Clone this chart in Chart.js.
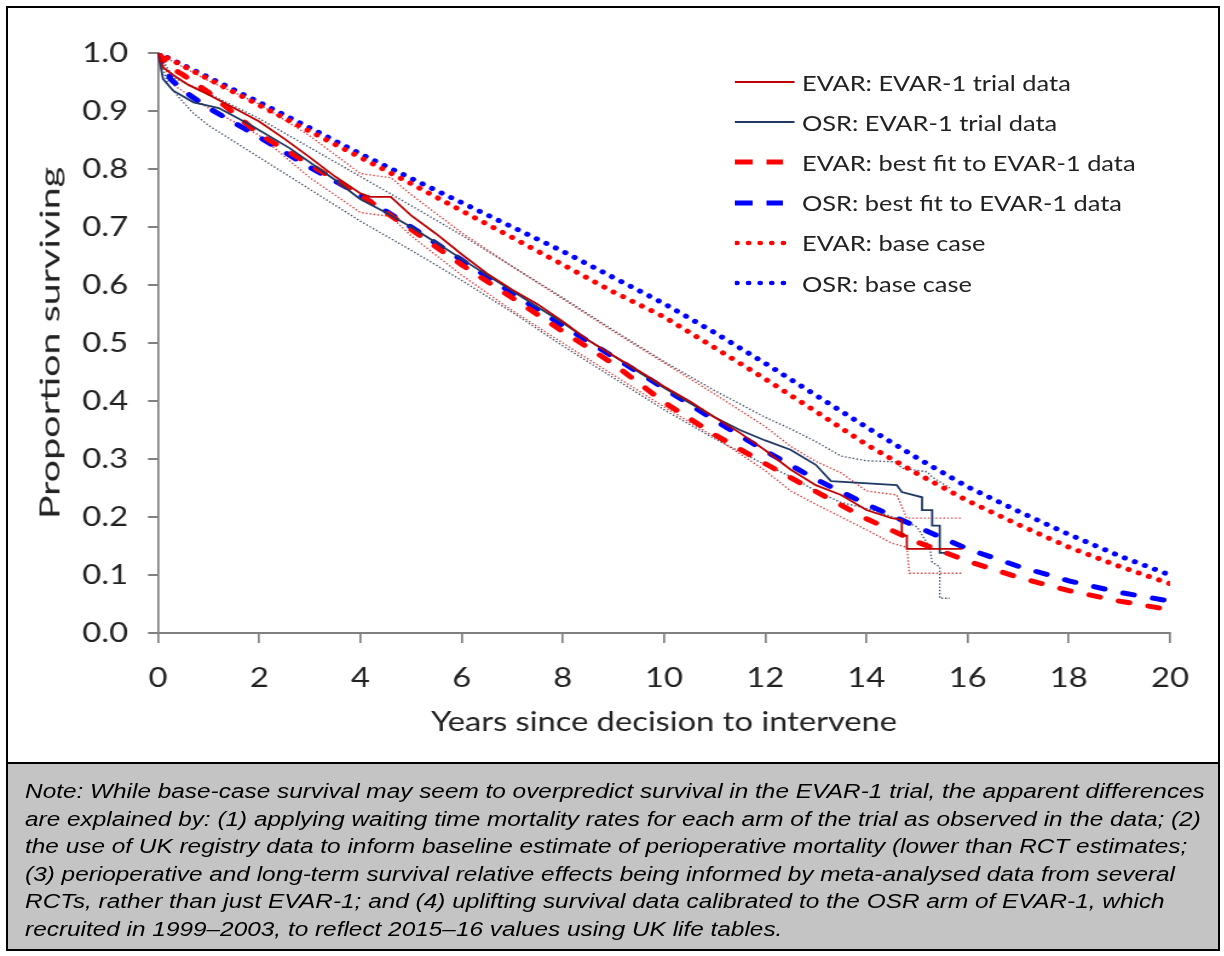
<!DOCTYPE html>
<html>
<head>
<meta charset="utf-8">
<script src="https://cdn.jsdelivr.net/npm/chart.js@4.4.0/dist/chart.umd.min.js"></script>
<style>
  html, body { margin: 0; padding: 0; background: #fff; }
  /* the reference figure is stretched ~1.21x horizontally, so the drawing stage is too */
  #stage { position: absolute; left: 0; top: 0; width: 1012px; height: 956px;
           transform: scaleX(1.21); transform-origin: 0 0; }
  #c { position: absolute; left: 0; top: 0; }
  #frame { position: absolute; left: 6px; top: 6px; width: 1214px; height: 945px;
           border: 2.5px solid #000; box-sizing: border-box; }
  #noteBox { position: absolute; left: 6px; top: 762px; width: 1214px; height: 189px; box-sizing: border-box;
             border: 2.5px solid #000; background: #c4c4c4; }
  #note { position: absolute; left: 20.7px; top: 778px; color: #000;
          font-family: "Liberation Sans", Arial, sans-serif; font-style: italic;
          font-size: 20.15px; line-height: 27.6px; white-space: nowrap; }
  #legend { position: absolute; left: 607.4px; top: 62px; font-family: Lato, sans-serif;
            font-size: 21px; color: #222; }
  #legend .row { height: 40.2px; display: flex; align-items: center; }
  #legend svg { width: 55.4px; height: 20px; flex: none; }
  #ytitle { position: absolute; left: 49px; top: 343px; font-family: Lato, sans-serif; font-size: 27px;
            color: #222; white-space: nowrap;
            transform: translate(-50%, -50%) rotate(-90deg) scaleX(1.46); }
</style>
</head>
<body>
<div id="frame"></div>
<div id="noteBox"></div>
<div id="stage">
  <canvas id="c" width="1012" height="762"></canvas>
  <div id="legend">
    <div class="row"><svg><line x1="0" y1="10" x2="49.6" y2="10" stroke="#c00000" stroke-width="2"/></svg>EVAR: EVAR-1 trial data</div>
    <div class="row"><svg><line x1="0" y1="10" x2="49.6" y2="10" stroke="#1f3864" stroke-width="2"/></svg>OSR: EVAR-1 trial data</div>
    <div class="row"><svg><line x1="0" y1="10" x2="40" y2="10" stroke="#ff0000" stroke-width="5" stroke-dasharray="15 11.5"/></svg>EVAR: best fit to EVAR-1 data</div>
    <div class="row"><svg><line x1="0" y1="10" x2="40" y2="10" stroke="#0000ff" stroke-width="5" stroke-dasharray="15 11.5"/></svg>OSR: best fit to EVAR-1 data</div>
    <div class="row"><svg><line x1="2" y1="10" x2="50" y2="10" stroke="#ff0000" stroke-width="4.5" stroke-linecap="round" stroke-dasharray="0.1 9.5"/></svg>EVAR: base case</div>
    <div class="row"><svg><line x1="2" y1="10" x2="50" y2="10" stroke="#0000ff" stroke-width="4.5" stroke-linecap="round" stroke-dasharray="0.1 9.5"/></svg>OSR: base case</div>
  </div>
  <div id="note">Note: While base-case survival may seem to overpredict survival in the EVAR-1 trial, the apparent differences<br>are explained by: (1) applying waiting time mortality rates for each arm of the trial as observed in the data; (2)<br>the use of UK registry data to inform baseline estimate of perioperative mortality (lower than RCT estimates;<br>(3) perioperative and long-term survival relative effects being informed by meta-analysed data from several<br>RCTs, rather than just EVAR-1; and (4) uplifting survival data calibrated to the OSR arm of EVAR-1, which<br>recruited in 1999–2003, to reflect 2015–16 values using UK life tables.</div>
</div>
<div id="ytitle">Proportion surviving</div>
<script>
// x ticks
const xTicks = [0, 2, 4, 6, 8, 10, 12, 14, 16, 18, 20];

// Kaplan-Meier trial data (years, proportion surviving)
const evarTrialT = [0, 0.1, 0.3, 0.6, 1, 1.5, 2, 2.5, 3, 3.5, 4, 4.2, 4.6, 5, 5.5, 6, 6.5, 7, 7.5, 8, 8.5, 9, 9.5, 10, 10.5, 11, 11.5, 12, 12.5, 13, 13.5, 14, 14.5, 14.7, 14.7, 14.8, 14.8, 15.9];
const evarTrialS = [1.0, 0.975, 0.962, 0.945, 0.928, 0.905, 0.882, 0.852, 0.82, 0.787, 0.758, 0.752, 0.752, 0.72, 0.688, 0.653, 0.62, 0.592, 0.567, 0.537, 0.505, 0.478, 0.452, 0.425, 0.4, 0.372, 0.345, 0.315, 0.282, 0.255, 0.238, 0.212, 0.198, 0.195, 0.168, 0.168, 0.145, 0.145];
const osrTrialT = [0, 0.1, 0.3, 0.7, 1.2, 1.8, 2.6, 3.5, 4, 4.5, 5, 5.5, 6, 6.5, 7, 7.5, 8, 8.5, 9, 9.5, 10, 10.5, 11, 11.5, 12, 12.5, 13, 13.3, 14.6, 14.7, 15.1, 15.1, 15.3, 15.3, 15.45, 15.45, 15.55];
const osrTrialS = [1.0, 0.955, 0.935, 0.915, 0.905, 0.877, 0.836, 0.781, 0.748, 0.725, 0.7, 0.673, 0.645, 0.617, 0.59, 0.562, 0.535, 0.505, 0.478, 0.45, 0.423, 0.397, 0.372, 0.35, 0.332, 0.316, 0.29, 0.262, 0.255, 0.243, 0.234, 0.212, 0.212, 0.185, 0.185, 0.138, 0.138];

// 95% confidence limits of the trial curves
const evarUpT = [0, 0.3, 1, 2, 3, 4, 4.6, 5, 6, 7, 8, 9, 10, 11, 12, 12.5, 13, 13.5, 14, 14.6, 14.8, 15.9];
const evarUpS = [1.0, 0.985, 0.952, 0.912, 0.857, 0.792, 0.785, 0.756, 0.69, 0.632, 0.576, 0.52, 0.466, 0.412, 0.356, 0.322, 0.296, 0.276, 0.245, 0.238, 0.198, 0.198];
const evarLoT = [0, 0.3, 1, 2, 3, 4, 4.6, 5, 6, 7, 8, 9, 10, 11, 12, 12.5, 13, 13.5, 14, 14.5, 14.8, 14.85, 15.9];
const evarLoS = [1.0, 0.945, 0.905, 0.858, 0.785, 0.725, 0.718, 0.685, 0.617, 0.556, 0.5, 0.445, 0.39, 0.338, 0.28, 0.245, 0.222, 0.2, 0.178, 0.155, 0.148, 0.103, 0.103];
const osrUpT = [0, 0.3, 1, 2, 3, 4, 5, 6, 7, 8, 9, 10, 11, 12, 12.5, 13, 13.5, 14, 14.6, 14.7, 15.2, 15.3, 15.65];
const osrUpS = [1.0, 0.958, 0.93, 0.887, 0.837, 0.787, 0.737, 0.686, 0.632, 0.578, 0.522, 0.468, 0.418, 0.372, 0.352, 0.33, 0.305, 0.297, 0.295, 0.284, 0.278, 0.269, 0.25];
const osrLoT = [0, 0.2, 0.5, 0.7, 1, 2, 3, 4, 5, 6, 7, 8, 9, 10, 11, 12, 12.5, 13, 13.5, 14, 14.7, 15, 15.25, 15.3, 15.45, 15.45, 15.65];
const osrLoS = [1.0, 0.945, 0.915, 0.896, 0.875, 0.82, 0.765, 0.71, 0.66, 0.608, 0.553, 0.495, 0.44, 0.385, 0.335, 0.29, 0.27, 0.245, 0.225, 0.215, 0.195, 0.183, 0.148, 0.122, 0.114, 0.06, 0.06];

// best fit curves
const fitT = [0, 0.25, 0.5, 1, 2, 3, 4, 5, 6, 7, 8, 9, 10, 11, 12, 13, 14, 15, 16, 17, 18, 19, 20];
const evarFit = [1.0, 0.975, 0.962, 0.932, 0.86, 0.808, 0.755, 0.696, 0.635, 0.578, 0.52, 0.464, 0.398, 0.342, 0.292, 0.244, 0.197, 0.157, 0.124, 0.096, 0.073, 0.055, 0.04];
const osrFit = [1.0, 0.955, 0.935, 0.905, 0.855, 0.803, 0.755, 0.70, 0.643, 0.586, 0.53, 0.476, 0.422, 0.367, 0.314, 0.265, 0.222, 0.183, 0.145, 0.115, 0.09, 0.07, 0.055];

// base case model
const baseT = [0, 1, 2, 3, 4, 5, 6, 7, 8, 9, 10, 11, 12, 13, 14, 15, 16, 17, 18, 19, 20];
const evarBase = [1.0, 0.955, 0.91, 0.865, 0.82, 0.775, 0.728, 0.682, 0.635, 0.588, 0.545, 0.492, 0.438, 0.382, 0.325, 0.275, 0.228, 0.187, 0.148, 0.115, 0.085];
const osrBase = [1.0, 0.958, 0.915, 0.871, 0.826, 0.784, 0.742, 0.70, 0.658, 0.613, 0.568, 0.518, 0.465, 0.41, 0.355, 0.302, 0.252, 0.21, 0.17, 0.133, 0.10];

function pts(ts, vs) {
  return ts.map((t, i) => ({x: t, y: vs[i]}));
}

function line(label, ts, vs, color, width, dash, cap) {
  return {
    label: label,
    data: pts(ts, vs),
    borderColor: color,
    borderWidth: width,
    borderDash: dash || [],
    borderCapStyle: cap || 'butt',
    pointRadius: 0,
    tension: 0,
    fill: false
  };
}

const dotted = [0.1, 9];
const dashed = [9, 16];
const ci = [1.4, 1.8];

new Chart(document.getElementById('c'), {
  type: 'line',
  data: {
    datasets: [
      line('EVAR: EVAR-1 trial data', evarTrialT, evarTrialS, '#c00000', 1.8),
      line('OSR: EVAR-1 trial data', osrTrialT, osrTrialS, '#1f3864', 1.8),
      line('EVAR: base case', baseT, evarBase, '#ff0000', 5, dotted, 'round'),
      line('OSR: base case', baseT, osrBase, '#0000ff', 5, dotted, 'round'),
      line('EVAR: best fit to EVAR-1 data', fitT, evarFit, '#ff0000', 5, dashed, 'round'),
      line('OSR: best fit to EVAR-1 data', fitT, osrFit, '#0000ff', 5, dashed, 'round'),
      line('EVAR upper', evarUpT, evarUpS, '#d84040', 1.4, ci),
      line('EVAR lower', evarLoT, evarLoS, '#d84040', 1.4, ci),
      line('OSR upper', osrUpT, osrUpS, '#44546a', 1.4, ci),
      line('OSR lower', osrLoT, osrLoS, '#44546a', 1.4, ci)
    ]
  },
  options: {
    responsive: false,
    animation: false,
    layout: { padding: { top: 53, right: 45.1, bottom: 0, left: 0 } },
    plugins: { legend: { display: false }, tooltip: { enabled: false } },
    scales: {
      x: {
        type: 'linear',
        min: 0,
        max: 20,
        afterFit: (scale) => { scale.height = 129; },
        afterBuildTicks: (scale) => { scale.ticks = xTicks.map(v => ({value: v})); },
        ticks: { font: { family: 'Lato', size: 27 }, color: '#222', padding: 19, maxRotation: 0 },
        grid: { drawOnChartArea: false, drawTicks: true, tickLength: 10, color: '#808080', lineWidth: 1.7 },
        border: { color: '#808080', width: 2 },
        title: { display: true, text: 'Years since decision to intervene', font: { family: 'Lato', size: 27 },
                 color: '#222', padding: { top: 0, bottom: 24 } }
      },
      y: {
        min: 0,
        max: 1,
        afterFit: (scale) => { scale.width = 130.6; },
        ticks: { stepSize: 0.1, font: { family: 'Lato', size: 27 }, color: '#222', padding: 16.5,
                 callback: (v) => v.toFixed(1) },
        grid: { drawOnChartArea: false, drawTicks: true, tickLength: 8.3, color: '#808080', lineWidth: 2 },
        border: { color: '#808080', width: 1.7 }
      }
    }
  }
});
</script>
</body>
</html>
